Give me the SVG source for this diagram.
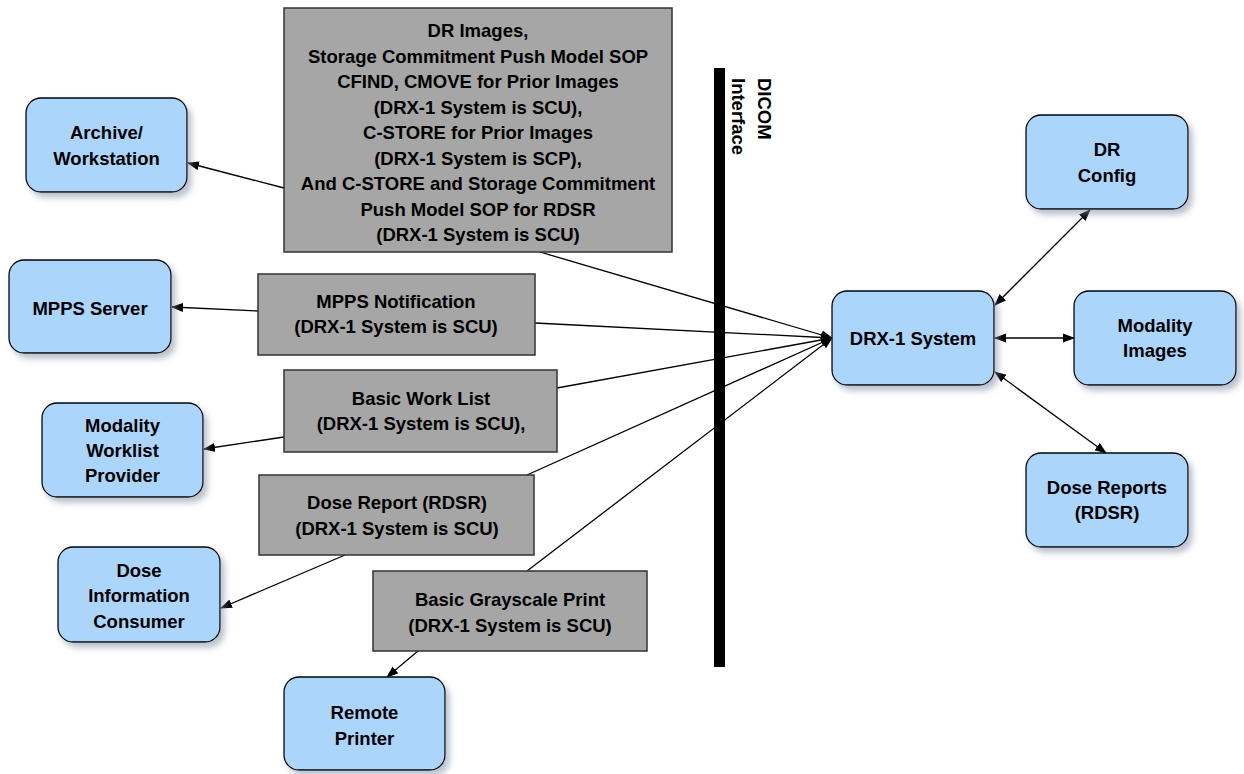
<svg xmlns="http://www.w3.org/2000/svg" width="1244" height="774" viewBox="0 0 1244 774">
<style>
.blue{fill:#acd5fc;stroke:#000;stroke-width:1.3;filter:url(#sh)}
.gray{fill:#a6a6a6;stroke:#333;stroke-width:1.5}
.t{font-family:"Liberation Sans",Arial,sans-serif;font-weight:bold;font-size:18.5px;fill:#000;text-anchor:middle}
.c{stroke:#000;stroke-width:1.3;fill:none;marker-end:url(#ah)}
.d{stroke:#000;stroke-width:1.3;fill:none;marker-end:url(#ah);marker-start:url(#ah)}
</style>
<defs>
<filter id="sh" x="-10%" y="-10%" width="130%" height="140%">
<feDropShadow dx="4" dy="5" stdDeviation="3" flood-color="#7f8fa6" flood-opacity="0.55"/>
</filter>
<marker id="ah" markerUnits="userSpaceOnUse" markerWidth="12" markerHeight="10" refX="11" refY="4.5" orient="auto-start-reverse" viewBox="0 0 12 9">
<path d="M0,0 L12,4.5 L0,9 z" fill="#000"/>
</marker>
</defs>
<rect width="1244" height="774" fill="#fff"/>

<g id="connectors">
<line class="c" x1="284" y1="188" x2="188" y2="163"/>
<line class="c" x1="540" y1="252" x2="832" y2="338"/>
<line class="c" x1="258" y1="311" x2="172" y2="307"/>
<line class="c" x1="535" y1="323" x2="832" y2="338"/>
<line class="c" x1="557" y1="388" x2="832" y2="338"/>
<line class="c" x1="284" y1="437" x2="204" y2="449"/>
<line class="c" x1="527" y1="475" x2="832" y2="338"/>
<line class="c" x1="345" y1="555" x2="221" y2="608"/>
<line class="c" x1="527" y1="571" x2="832" y2="338"/>
<line class="c" x1="418" y1="651" x2="387" y2="677"/>
<line class="d" x1="995" y1="305" x2="1090" y2="210"/>
<line class="d" x1="995" y1="338" x2="1074" y2="338"/>
<line class="d" x1="995" y1="372" x2="1106" y2="453"/>
</g>

<g id="dicom-interface">
<rect x="714" y="68" width="11" height="599" fill="#000"/>
<text class="t" style="text-anchor:start" transform="translate(758,78) rotate(90)"><tspan x="0" y="0">DICOM</tspan><tspan x="0" y="26">Interface</tspan></text>
</g>

<g id="n-dicom-services">
<rect class="gray" x="284" y="8" width="388" height="244"/>
<text class="t"><tspan x="478" y="37">DR Images,</tspan><tspan x="478" y="62.5">Storage Commitment Push Model SOP</tspan><tspan x="478" y="88">CFIND, CMOVE for Prior Images</tspan><tspan x="478" y="113.5">(DRX-1 System is SCU),</tspan><tspan x="478" y="139">C-STORE for Prior Images</tspan><tspan x="478" y="164.5">(DRX-1 System is SCP),</tspan><tspan x="478" y="190">And C-STORE and Storage Commitment</tspan><tspan x="478" y="215.5">Push Model SOP for RDSR</tspan><tspan x="478" y="241">(DRX-1 System is SCU)</tspan></text>
</g>

<g id="n-mpps-notification">
<rect class="gray" x="258" y="274" width="277" height="81"/>
<text class="t"><tspan x="396" y="308">MPPS Notification</tspan><tspan x="396" y="333">(DRX-1 System is SCU)</tspan></text>
</g>

<g id="n-basic-work-list">
<rect class="gray" x="284" y="370" width="273" height="82"/>
<text class="t"><tspan x="421" y="405">Basic Work List</tspan><tspan x="421" y="430">(DRX-1 System is SCU),</tspan></text>
</g>

<g id="n-dose-report">
<rect class="gray" x="259" y="475" width="275" height="80"/>
<text class="t"><tspan x="397" y="509">Dose Report (RDSR)</tspan><tspan x="397" y="535">(DRX-1 System is SCU)</tspan></text>
</g>

<g id="n-grayscale-print">
<rect class="gray" x="373" y="571" width="274" height="80"/>
<text class="t"><tspan x="510" y="606">Basic Grayscale Print</tspan><tspan x="510" y="632">(DRX-1 System is SCU)</tspan></text>
</g>

<g id="n-archive">
<rect class="blue" x="26" y="98" width="161" height="94" rx="15"/>
<text class="t"><tspan x="106.5" y="139">Archive/</tspan><tspan x="106.5" y="165">Workstation</tspan></text>
</g>

<g id="n-mpps-server">
<rect class="blue" x="9" y="260" width="162" height="93" rx="15"/>
<text class="t"><tspan x="90" y="315">MPPS Server</tspan></text>
</g>

<g id="n-worklist-provider">
<rect class="blue" x="42" y="403" width="161" height="94" rx="15"/>
<text class="t"><tspan x="122.5" y="432">Modality</tspan><tspan x="122.5" y="457">Worklist</tspan><tspan x="122.5" y="482">Provider</tspan></text>
</g>

<g id="n-dose-consumer">
<rect class="blue" x="58" y="547" width="162" height="95" rx="15"/>
<text class="t"><tspan x="139" y="577">Dose</tspan><tspan x="139" y="602">Information</tspan><tspan x="139" y="628">Consumer</tspan></text>
</g>

<g id="n-remote-printer">
<rect class="blue" x="284" y="677" width="161" height="93" rx="15"/>
<text class="t"><tspan x="364.5" y="719">Remote</tspan><tspan x="364.5" y="745">Printer</tspan></text>
</g>

<g id="n-drx1">
<rect class="blue" x="832" y="291" width="162" height="94" rx="15"/>
<text class="t"><tspan x="913" y="345">DRX-1 System</tspan></text>
</g>

<g id="n-dr-config">
<rect class="blue" x="1026" y="115" width="162" height="94" rx="15"/>
<text class="t"><tspan x="1107" y="156">DR</tspan><tspan x="1107" y="182">Config</tspan></text>
</g>

<g id="n-modality-images">
<rect class="blue" x="1074" y="291" width="162" height="94" rx="15"/>
<text class="t"><tspan x="1155" y="332">Modality</tspan><tspan x="1155" y="357">Images</tspan></text>
</g>

<g id="n-dose-reports">
<rect class="blue" x="1026" y="453" width="162" height="94" rx="15"/>
<text class="t"><tspan x="1107" y="494">Dose Reports</tspan><tspan x="1107" y="519">(RDSR)</tspan></text>
</g>
</svg>
